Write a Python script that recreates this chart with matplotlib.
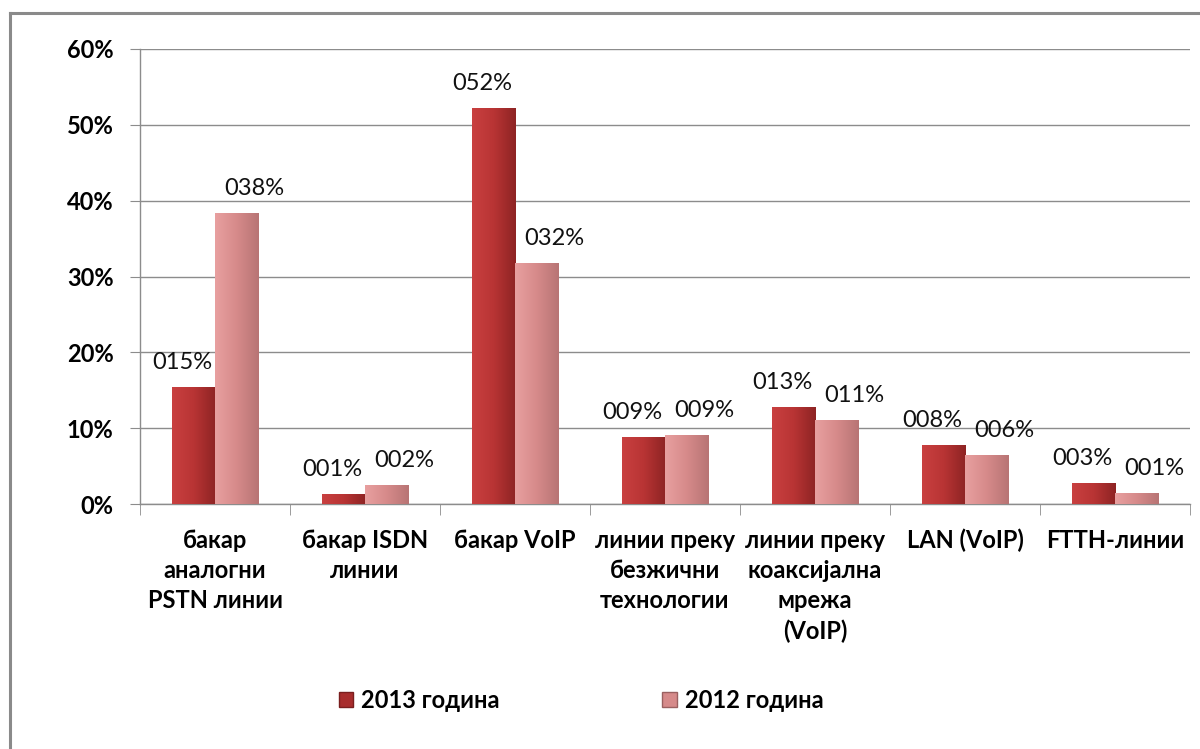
import matplotlib
matplotlib.use("Agg")
import matplotlib.pyplot as plt
import numpy as np
from matplotlib.lines import Line2D
from matplotlib.patches import Patch
from matplotlib.colors import LinearSegmentedColormap

plt.rcParams['font.family'] = ['Lato', 'DejaVu Sans']

categories = ["бакар\nаналогни\nPSTN линии", "бакар ISDN\nлинии", "бакар VoIP",
              "линии преку\nбезжични\nтехнологии", "линии преку\nкоаксијална\nмрежа\n(VoIP)",
              "LAN (VoIP)", "FTTH-линии"]
series_names = ["2013 година", "2012 година"]
values_2013 = [15.4, 1.3, 52.2, 8.8, 12.8, 7.8, 2.8]
values_2012 = [38.4, 2.5, 31.8, 9.1, 11.1, 6.5, 1.4]
yticks = [0, 10, 20, 30, 40, 50, 60]

fig = plt.figure(figsize=(12, 7.49), dpi=100)
ax = fig.add_axes([140/1200, 1-504/749, 1050/1200, 455/749])

x = np.arange(len(categories))
w = 0.287
bars13 = ax.bar(x - w/2, values_2013, w, color="#B83434", edgecolor="#7A1E1E", linewidth=0.6, zorder=3)
bars12 = ax.bar(x + w/2, values_2012, w, color="#D68A8A", edgecolor="#9A6060", linewidth=0.6, zorder=3)

cm13 = LinearSegmentedColormap.from_list("c13", ["#C94040", "#B83434", "#8E2424"])
cm12 = LinearSegmentedColormap.from_list("c12", ["#E8A0A0", "#D68A8A", "#B87474"])
grad = np.linspace(0, 1, 64).reshape(1, -1)
for bars, cm in ((bars13, cm13), (bars12, cm12)):
    for b in bars:
        x0, y0 = b.get_x(), b.get_y()
        im = ax.imshow(grad, cmap=cm, aspect='auto', zorder=3.5,
                       extent=(x0, x0 + b.get_width(), y0, y0 + b.get_height()))
        im.set_clip_path(b)

for bars, vals, dx in ((bars13, values_2013, -8), (bars12, values_2012, 13)):
    for b, v in zip(bars, vals):
        ax.annotate(f"{int(round(v)):03d}%", (b.get_x() + b.get_width()/2, b.get_height()),
                    xytext=(dx, 13), textcoords="offset points", ha="center", va="baseline",
                    fontsize=17, color="#111111", zorder=5)

ax.set_xlim(-0.5, len(categories) - 0.5)
ax.set_ylim(0, 60)
ax.set_yticks(yticks)
ax.set_yticklabels([f"{t}%" for t in yticks], fontsize=17, fontweight="bold")
ax.yaxis.grid(True, color="#8C8C8C", linewidth=1.0, zorder=0)
ax.set_axisbelow(True)
ax.tick_params(axis="y", length=7, color="#8C8C8C", pad=12)

ax.set_xticks(x)
ax.set_xticklabels(categories, fontsize=17, fontweight="bold", linespacing=1.38, va="top")
ax.tick_params(axis="x", which="major", length=0, pad=18)
ax.set_xticks(np.arange(-0.5, len(categories)), minor=True)
ax.tick_params(axis="x", which="minor", length=8, color="#8C8C8C")

for s in ("top", "right"):
    ax.spines[s].set_visible(False)
for s in ("left", "bottom"):
    ax.spines[s].set_color("#8C8C8C")
    ax.spines[s].set_linewidth(1.0)

handles = [Patch(facecolor="#A82C2C", edgecolor="#7A1E1E"),
           Patch(facecolor="#D68A8A", edgecolor="#9A6060")]
fig.legend(handles, series_names, loc="center", bbox_to_anchor=(581/1200, 1-700/749), ncol=2,
           frameon=False, prop={"size": 17, "weight": "bold"}, handlelength=0.6, handleheight=0.6,
           handletextpad=0.35, columnspacing=6.9)

# outer chart frame
fig.add_artist(Line2D([9.5/1200, 9.5/1200], [0, 1-13/749], transform=fig.transFigure,
                      color="#8A8A8A", linewidth=2.2))
fig.add_artist(Line2D([9.5/1200, 1], [1-13/749, 1-13/749], transform=fig.transFigure,
                      color="#8A8A8A", linewidth=2.2))

fig.savefig("out.png", dpi=100, facecolor="white")
